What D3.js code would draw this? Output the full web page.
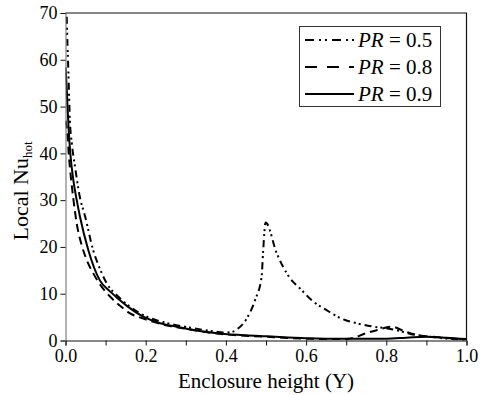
<!DOCTYPE html>
<html>
<head>
<meta charset="utf-8">
<script src="https://cdn.jsdelivr.net/npm/d3@7"></script>
<style>
  body { margin: 0; background: #fff; }
</style>
</head>
<body>
<div id="chart"></div>
<script>
// data
var pr05X = [0.003, 0.005, 0.007, 0.011, 0.016, 0.024, 0.035, 0.049, 0.069, 0.085, 0.103, 0.13, 0.16, 0.2, 0.25, 0.3, 0.35, 0.4, 0.418, 0.431, 0.452, 0.473, 0.489, 0.493, 0.499, 0.527, 0.56, 0.585, 0.618, 0.651, 0.676, 0.693, 0.726, 0.768, 0.8, 0.826, 0.86, 0.9, 0.95, 1.0];
var pr05Y = [69.2, 63, 58, 47, 42, 37, 31, 26.5, 19.3, 15.5, 12.2, 9.5, 7.3, 5.2, 3.8, 2.9, 2.2, 1.7, 1.9, 2.6, 4.7, 8.7, 13.6, 19.3, 25.2, 18.6, 13.3, 11.1, 8.3, 6.5, 5.2, 4.5, 3.7, 2.95, 2.6, 2.2, 1.4, 0.9, 0.4, 0.1];

var pr08X = [0, 0.002, 0.005, 0.008, 0.011, 0.02, 0.028, 0.04, 0.053, 0.069, 0.09, 0.111, 0.135, 0.161, 0.19, 0.219, 0.26, 0.3, 0.35, 0.4, 0.5, 0.6, 0.7, 0.72, 0.747, 0.78, 0.813, 0.845, 0.876, 0.93, 1.0];
var pr08Y = [47, 46, 44, 40, 37, 30, 25, 20.5, 17.2, 14.4, 11.5, 9.4, 7.5, 5.8, 4.8, 4.0, 3.1, 2.5, 1.8, 1.3, 0.8, 0.4, 0.3, 0.6, 1.5, 2.3, 2.95, 2.0, 1.2, 0.7, 0.2];

var pr09X = [0, 0.003, 0.005, 0.008, 0.012, 0.02, 0.028, 0.036, 0.057, 0.086, 0.111, 0.153, 0.194, 0.236, 0.277, 0.33, 0.385, 0.45, 0.5, 0.6, 0.7, 0.8, 0.85, 0.9, 0.95, 1.0];
var pr09Y = [58.4, 54, 50, 45, 40, 34, 30, 26.5, 19.3, 12.8, 10.5, 7.4, 5.1, 3.7, 2.95, 2.1, 1.5, 1.1, 0.9, 0.5, 0.35, 0.4, 0.6, 0.8, 0.6, 0.3];

var seriesNames = ["0.5", "0.8", "0.9"];
var xTicks = [0, 0.2, 0.4, 0.6, 0.8, 1.0];
var xMinorTicks = [0.1, 0.3, 0.5, 0.7, 0.9];
var yTicks = [0, 10, 20, 30, 40, 50, 60, 70];

var w = 480;
var h = 395;
var mLeft = 65.5, mRight = 466.5, mTop = 13, mBottom = 340.5;
var serif = "'Liberation Serif', 'Times New Roman', serif";

var svg = d3.select("#chart").append("svg")
  .attr("width", w)
  .attr("height", h)
  .attr("font-family", serif);

var xScale = d3.scaleLinear().domain([0, 1]).range([mLeft, mRight]);
var yScale = d3.scaleLinear().domain([0, 70]).range([mBottom, mTop]);

var series = [
  { name: seriesNames[0], xs: pr05X, ys: pr05Y, dash: "7,4,2,3,2,4", legendDash: "9,5,2,4,2,5" },
  { name: seriesNames[1], xs: pr08X, ys: pr08Y, dash: "8,5", legendDash: "12,10" },
  { name: seriesNames[2], xs: pr09X, ys: pr09Y, dash: null, legendDash: null }
];

svg.append("clipPath").attr("id", "clip")
  .append("rect")
  .attr("x", mLeft).attr("y", mTop)
  .attr("width", mRight - mLeft).attr("height", mBottom - mTop);

var line = d3.line()
  .x(function (d) { return xScale(d[0]); })
  .y(function (d) { return yScale(d[1]); })
  .curve(d3.curveMonotoneX);

svg.append("g").attr("clip-path", "url(#clip)")
  .selectAll("path")
  .data(series)
  .enter()
  .append("path")
  .attr("d", function (s) {
    return line(s.xs.map(function (x, i) { return [x, s.ys[i]]; }));
  })
  .attr("fill", "none")
  .attr("stroke", "#000")
  .attr("stroke-width", 2)
  .attr("stroke-dasharray", function (s) { return s.dash; });

// axes
svg.append("g")
  .attr("transform", "translate(0," + mBottom + ")")
  .call(d3.axisBottom(xScale).tickValues(xTicks).tickSize(5).tickPadding(4)
    .tickFormat(d3.format(".1f")));
svg.append("g")
  .attr("transform", "translate(0," + mBottom + ")")
  .call(d3.axisBottom(xScale).tickValues(xMinorTicks).tickSize(5).tickFormat(""))
  .select(".domain").remove();

var yAxisG = svg.append("g")
  .attr("transform", "translate(" + mLeft + ",0)")
  .call(d3.axisLeft(yScale).tickValues(yTicks).tickSize(5).tickPadding(3));

svg.selectAll("g").attr("font-family", null);
svg.selectAll(".tick text")
  .attr("font-size", 18)
  .attr("fill", "#000");
svg.selectAll(".domain, .tick line").attr("stroke", "#111");
yAxisG.select(".domain").attr("stroke", "#666");

// top and right frame
svg.append("path")
  .attr("d", "M" + mLeft + "," + mTop + "H" + mRight + "V" + mBottom)
  .attr("fill", "none")
  .attr("stroke", "#111")
  .attr("stroke-width", 1.2);

// axis titles
svg.append("text")
  .attr("x", (mLeft + mRight) / 2)
  .attr("y", 388)
  .attr("text-anchor", "middle")
  .style("font-size", "21px")
  .text("Enclosure height (Y)");

var yt = svg.append("text")
  .attr("transform", "translate(28,191) rotate(-90)")
  .attr("text-anchor", "middle")
  .style("font-size", "22px");
yt.append("tspan").text("Local Nu");
yt.append("tspan").attr("dy", 4).style("font-size", "13px").text("hot");

// legend
var lg = svg.append("g");
lg.append("rect")
  .attr("x", 299.5).attr("y", 26.5)
  .attr("width", 141).attr("height", 80)
  .attr("fill", "#fff")
  .attr("stroke", "#333")
  .attr("stroke-width", 1);

var rows = lg.selectAll(".row")
  .data(series)
  .enter()
  .append("g")
  .attr("class", "row")
  .attr("transform", function (d, i) { return "translate(0," + (40 + i * 27) + ")"; });

rows.append("line")
  .attr("x1", 305).attr("x2", 354)
  .attr("stroke", "#000")
  .attr("stroke-width", 2)
  .attr("stroke-dasharray", function (d) { return d.legendDash; });

var lt = rows.append("text")
  .attr("x", 358)
  .attr("y", 7)
  .style("font-size", "21px");
lt.append("tspan").style("font-style", "italic").text("PR");
lt.append("tspan").text(" = ");
lt.append("tspan").text(function (d) { return d.name; });

svg.selectAll("text").style("font-family", serif);
</script>
</body>
</html>
